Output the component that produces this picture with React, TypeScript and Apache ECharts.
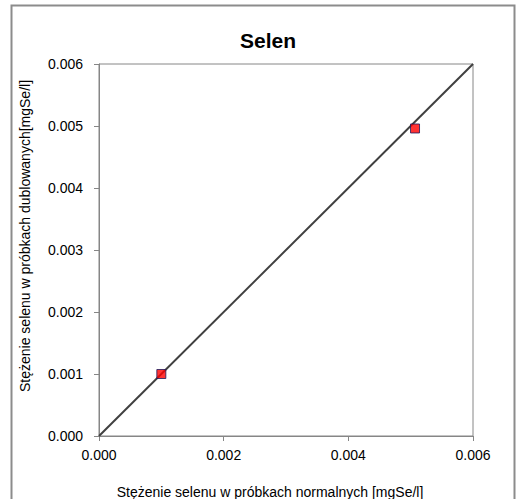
import React, { useEffect, useRef } from "react";
import * as echarts from "echarts";

const titleText = "Selen";
const xAxisName = "Stężenie selenu w próbkach normalnych [mgSe/l]";
const yAxisName = "Stężenie selenu w próbkach dublowanych[mgSe/l]";
const pointsX = [0.001, 0.00507];
const pointsY = [0.001, 0.00496];
const lineX = [0, 0.006];
const lineY = [0, 0.006];

export default function App() {
  const ref = useRef<HTMLDivElement>(null);
  useEffect(() => {
    if (!ref.current) return;
    const chart = echarts.init(ref.current, null, { renderer: "svg" });
    const font = "Arial, 'Liberation Sans', sans-serif";
    chart.setOption({
      animation: false,
      backgroundColor: "#ffffff",
      title: {
        text: titleText,
        left: 263,
        top: 25,
        textAlign: "center",
        textStyle: { fontFamily: font, fontSize: 21, fontWeight: "bold", color: "#000" },
      },
      grid: {
        left: 99,
        top: 64,
        width: 374,
        height: 372,
        show: true,
        borderColor: "#868686",
        borderWidth: 1,
        backgroundColor: "transparent",
      },
      xAxis: {
        type: "value",
        min: 0,
        max: 0.006,
        interval: 0.002,
        axisLine: { show: true, lineStyle: { color: "#868686", width: 1 } },
        axisTick: { show: true, inside: false, length: 5, lineStyle: { color: "#868686" } },
        splitLine: { show: false },
        axisLabel: {
          margin: 12,
          fontFamily: font,
          fontSize: 14,
          color: "#000",
          formatter: (v: number) => v.toFixed(3),
        },
      },
      yAxis: {
        type: "value",
        min: 0,
        max: 0.006,
        interval: 0.001,
        axisLine: { show: true, lineStyle: { color: "#868686", width: 1 } },
        axisTick: { show: true, inside: false, length: 5, lineStyle: { color: "#868686" } },
        splitLine: { show: false },
        axisLabel: {
          margin: 16,
          fontFamily: font,
          fontSize: 14,
          color: "#000",
          formatter: (v: number) => v.toFixed(3),
        },
      },
      series: [
        {
          type: "line",
          data: lineX.map((x, i) => [x, lineY[i]]),
          showSymbol: false,
          symbol: "none",
          lineStyle: { color: "#404040", width: 2 },
          z: 2,
        },
        {
          type: "scatter",
          data: pointsX.map((x, i) => [x, pointsY[i]]),
          symbol: "rect",
          symbolSize: 9,
          itemStyle: { color: "#ff0000", borderColor: "#1a1a5e", borderWidth: 1 },
          z: 3,
        },
      ],
      graphic: [
        {
          type: "rect",
          shape: { x: 11.5, y: 5.5, width: 503, height: 510 },
          style: { fill: "none", stroke: "#8c8c8c", lineWidth: 2 },
          silent: true,
        },
        {
          type: "text",
          x: 270,
          y: 492,
          style: {
            text: xAxisName,
            fontFamily: font,
            fontSize: 14,
            fill: "#000",
            textAlign: "center",
            textVerticalAlign: "middle",
          },
        },
        {
          type: "text",
          x: 25,
          y: 236,
          rotation: Math.PI / 2,
          style: {
            text: yAxisName,
            fontFamily: font,
            fontSize: 14,
            fill: "#000",
            textAlign: "center",
            textVerticalAlign: "middle",
          },
        },
      ],
    });
    return () => chart.dispose();
  }, []);
  return (
    <div
      ref={ref}
      style={{ position: "fixed", left: 0, top: 0, width: 519, height: 499 }}
    />
  );
}
